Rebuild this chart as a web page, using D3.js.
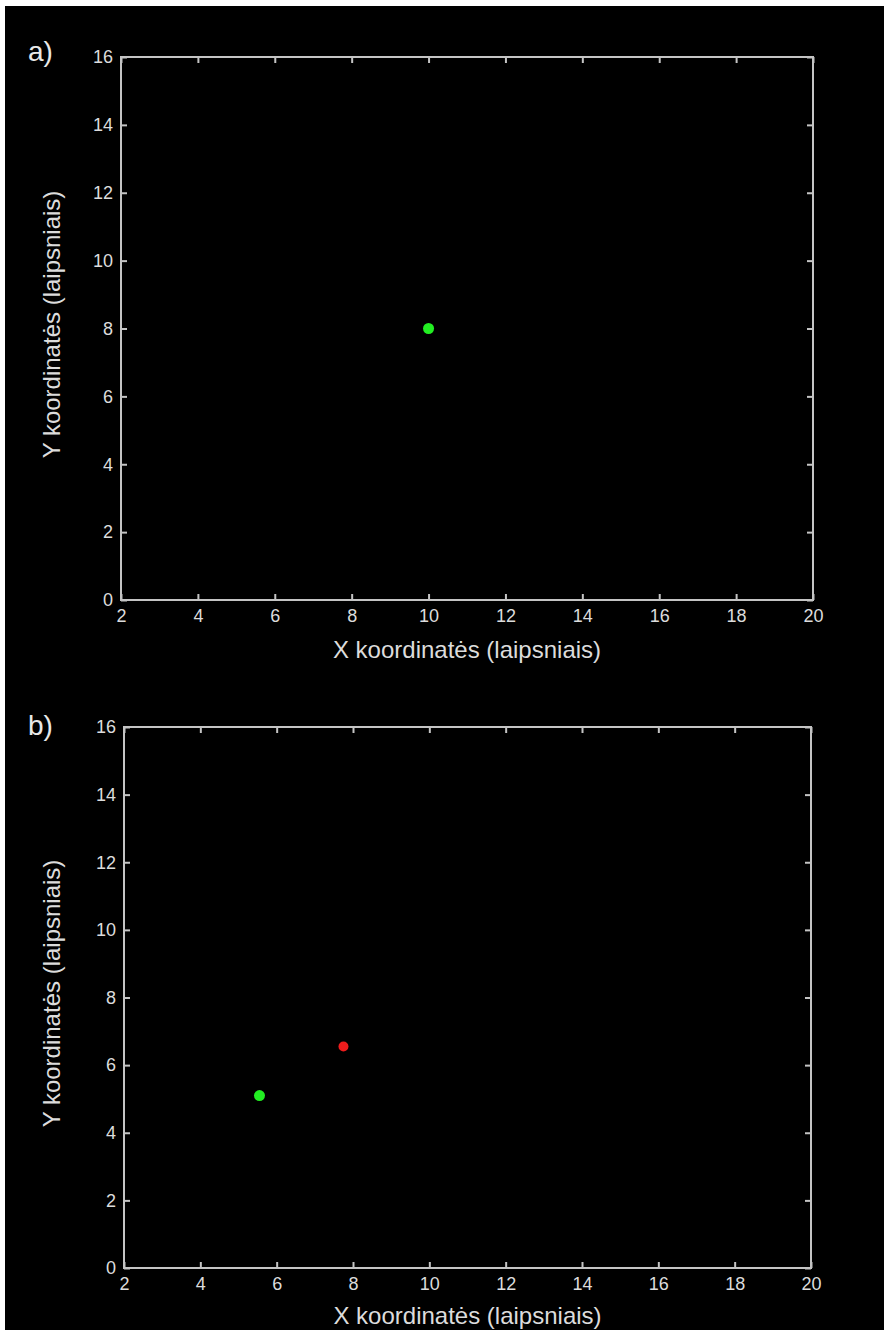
<!DOCTYPE html>
<html>
<head>
<meta charset="utf-8">
<script src="https://cdn.jsdelivr.net/npm/d3@7"></script>
<style>
  body { margin: 0; background: #fff; }
  svg { display: block; }
</style>
</head>
<body>
<svg id="chart"></svg>
<script>
// Tick values and axis titles
const xTicks = [2, 4, 6, 8, 10, 12, 14, 16, 18, 20];
const yTicks = [0, 2, 4, 6, 8, 10, 12, 14, 16];
const xTitle = "X koordinatės (laipsniais)";
const yTitle = "Y koordinatės (laipsniais)";
const panelNames = ["a)", "b)"];

// Points per panel, [x, y] in degrees
const greenA = [[10, 8]];
const redA = [];
const greenB = [[5.55, 5.1]];
const redB = [[7.75, 6.55]];

const W = 884, H = 1331;

const svg = d3.select("#chart")
  .attr("width", W)
  .attr("height", H);

// black figure area, thin white margin on top/left/bottom
svg.append("rect")
  .attr("x", 5).attr("y", 6)
  .attr("width", W - 5).attr("height", H - 7)
  .attr("fill", "#000");

const axisColor = "#c4c4c4";
const textColor = "#dcdcdc";
const font = "Liberation Sans, Arial, sans-serif";

// pixel boxes for each panel
const boxes = [
  { left: 121, top: 57, right: 813, bottom: 600, labelY: 61, titleY: 658 },
  { left: 124, top: 727, right: 811, bottom: 1268, labelY: 735, titleY: 1324 }
];
const panelData = [
  { green: greenA, red: redA },
  { green: greenB, red: redB }
];

boxes.forEach((b, i) => {
  const x = d3.scaleLinear().domain([2, 20]).range([b.left, b.right]);
  const y = d3.scaleLinear().domain([0, 16]).range([b.bottom, b.top]);
  const g = svg.append("g");

  const styleAxis = sel => {
    sel.select(".domain").remove();
    sel.selectAll("line").attr("stroke", axisColor).attr("stroke-width", 2);
    sel.selectAll("text")
      .attr("fill", textColor)
      .attr("font-family", font)
      .attr("font-size", 18);
  };

  // bottom axis with labels, ticks pointing inward
  g.append("g")
    .attr("transform", `translate(0,${b.bottom})`)
    .call(d3.axisBottom(x).tickValues(xTicks).tickSizeInner(-6).tickSizeOuter(0).tickPadding(9))
    .call(styleAxis);
  // top axis, ticks only
  g.append("g")
    .attr("transform", `translate(0,${b.top})`)
    .call(d3.axisTop(x).tickValues(xTicks).tickSizeInner(-6).tickSizeOuter(0).tickFormat(""))
    .call(styleAxis);
  // left axis with labels
  g.append("g")
    .attr("transform", `translate(${b.left},0)`)
    .call(d3.axisLeft(y).tickValues(yTicks).tickSizeInner(-6).tickSizeOuter(0).tickPadding(8))
    .call(styleAxis);
  // right axis, ticks only
  g.append("g")
    .attr("transform", `translate(${b.right},0)`)
    .call(d3.axisRight(y).tickValues(yTicks).tickSizeInner(-6).tickSizeOuter(0).tickFormat(""))
    .call(styleAxis);

  // frame
  g.append("rect")
    .attr("x", b.left).attr("y", b.top)
    .attr("width", b.right - b.left).attr("height", b.bottom - b.top)
    .attr("fill", "none")
    .attr("stroke", axisColor)
    .attr("stroke-width", 2);

  // points
  g.selectAll(".green").data(panelData[i].green).enter().append("circle")
    .attr("cx", d => x(d[0])).attr("cy", d => y(d[1]))
    .attr("r", 5.5).attr("fill", "#22ee22");
  g.selectAll(".red").data(panelData[i].red).enter().append("circle")
    .attr("cx", d => x(d[0])).attr("cy", d => y(d[1]))
    .attr("r", 5).attr("fill", "#ee1c1c");

  // titles
  g.append("text")
    .attr("x", (b.left + b.right) / 2).attr("y", b.titleY)
    .attr("text-anchor", "middle")
    .attr("fill", textColor).attr("font-family", font).attr("font-size", 24)
    .text(xTitle);
  g.append("text")
    .attr("transform", `translate(60,${(b.top + b.bottom) / 2 - 4}) rotate(-90)`)
    .attr("text-anchor", "middle")
    .attr("fill", textColor).attr("font-family", font).attr("font-size", 24)
    .text(yTitle);

  g.append("text")
    .attr("x", 28).attr("y", b.labelY)
    .attr("fill", "#e8e8e8").attr("font-family", font).attr("font-size", 28)
    .text(panelNames[i]);
});
</script>
</body>
</html>
